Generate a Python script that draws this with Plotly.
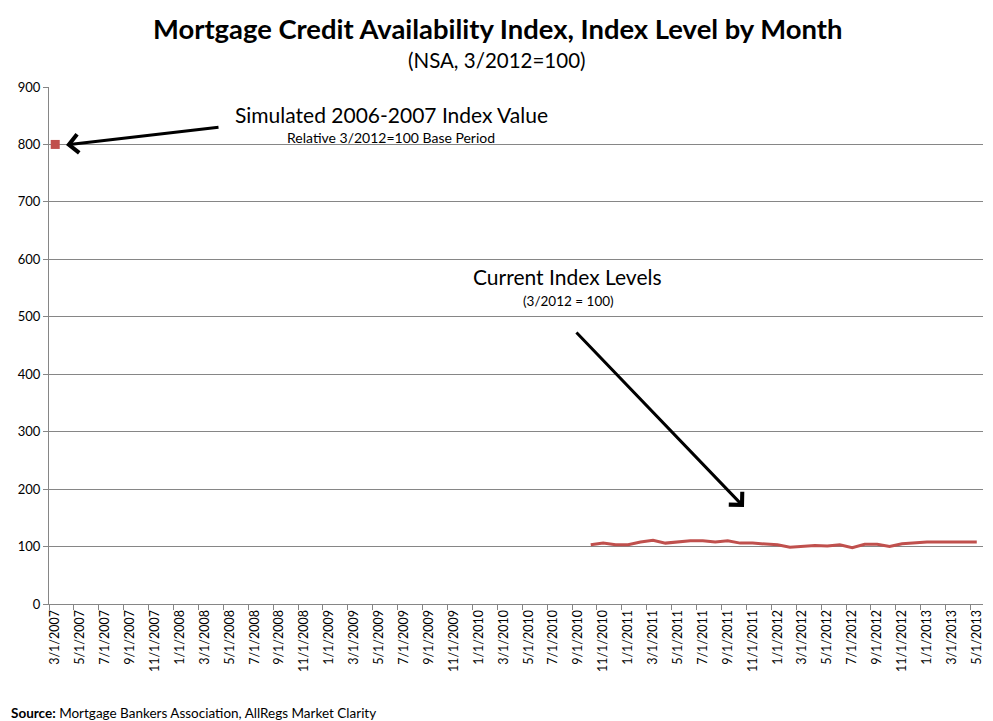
import pandas as pd
import plotly.graph_objects as go

# ---- data ----
months = [f"{d.month}/{d.day}/{d.year}" for d in pd.date_range("2007-03-01", "2013-05-01", freq="MS")]
sim_month = ["3/1/2007"]
sim_value = [800]
cur_months = [f"{d.month}/{d.day}/{d.year}" for d in pd.date_range("2010-10-01", "2013-05-01", freq="MS")]
cur_values = [103, 106, 103, 103, 108, 111, 106, 108, 110, 110, 108, 110,
              106, 106, 105, 103, 99, 100, 102, 101, 103, 98, 104, 104,
              100, 105, 107, 108, 108, 108, 108, 108]

RED = "#C0504D"
FONT = "Lato, 'Open Sans', sans-serif"

# plot area in page pixels (page has an 8px body margin)
OFF = 8
L, R, T, B = 49, 983, 87, 604
W, H = 993 - OFF, 721 - OFF


def px(x):
    return (x - L) / (R - L)


def py(y):
    return (B - y) / (B - T)


def label(text, x, y, size, xanchor="center"):
    return dict(text=text, x=px(x), y=py(y), xref="paper", yref="paper",
                xanchor=xanchor, yanchor="middle", showarrow=False,
                font=dict(size=size, color="black", family=FONT))


fig = go.Figure()
fig.add_trace(go.Scatter(x=cur_months, y=cur_values, mode="lines",
                         line=dict(color=RED, width=3), showlegend=False))
fig.add_trace(go.Scatter(x=sim_month, y=sim_value, mode="markers",
                         marker=dict(color=RED, symbol="square", size=9), showlegend=False))

annotations = [
    label("<b>Mortgage Credit Availability Index, Index Level by Month</b>", 497, 28, 27.4),
    label("(NSA, 3/2012=100)", 497, 60, 20.5),
    label("Simulated 2006-2007 Index Value", 391, 114, 21),
    label("Relative 3/2012=100 Base Period", 391, 137, 14),
    label("Current Index Levels", 567, 276, 21),
    label("(3/2012 = 100)", 568, 301, 13.5),
    label("<b>Source:</b> Mortgage Bankers Association, AllRegs Market Clarity", 9, 713, 13.5,
          xanchor="left"),
    # arrows
    dict(text="", x=px(66), y=py(145), xref="x domain", yref="y domain",
         ax=px(220), ay=py(127), axref="x domain", ayref="y domain",
         showarrow=True, arrowhead=4, arrowsize=1.2, arrowwidth=3, arrowcolor="black"),
    dict(text="", x=px(744), y=py(507), xref="x domain", yref="y domain",
         ax=px(575), ay=py(331), axref="x domain", ayref="y domain",
         showarrow=True, arrowhead=4, arrowsize=1.2, arrowwidth=3, arrowcolor="black"),
]

fig.update_layout(
    width=W, height=H,
    margin=dict(l=L - OFF, r=993 - R, t=T - OFF, b=721 - B, pad=0),
    paper_bgcolor="white", plot_bgcolor="white",
    font=dict(family=FONT, color="black"),
    annotations=annotations,
    showlegend=False,
)
fig.update_xaxes(type="category", categoryorder="array", categoryarray=months,
                 range=[-0.5, len(months) - 0.5], dtick=2, tickangle=-90,
                 tickson="boundaries", ticks="outside", ticklen=5, tickcolor="#868686",
                 showline=True, linecolor="#868686", linewidth=1, showgrid=False,
                 tickfont=dict(size=12.5, color="black", family=FONT), zeroline=False)
fig.update_yaxes(range=[0, 900], dtick=100, ticks="outside", ticklen=5, tickcolor="#868686",
                 showline=True, linecolor="#868686", linewidth=1,
                 showgrid=True, gridcolor="#868686", gridwidth=1, zeroline=False,
                 tickfont=dict(size=13, color="black", family=FONT))

fig.write_html("out.html")
